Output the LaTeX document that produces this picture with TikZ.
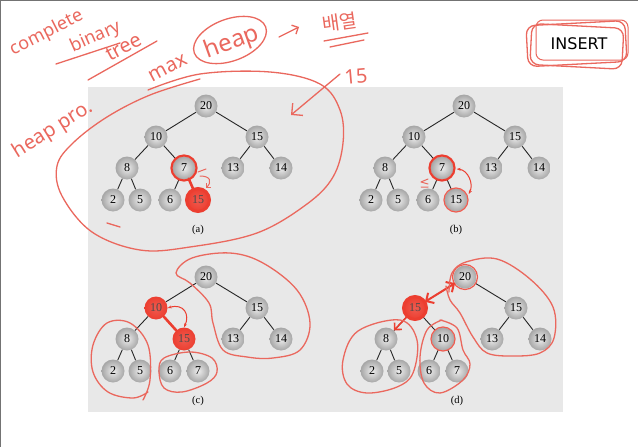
\documentclass[tikz,border=0pt]{standalone}
\usepackage{fontspec}
\setmainfont{Liberation Serif}
\newfontfamily\hand{Noto Sans}
\newfontfamily\kr{Noto Sans CJK KR}
\newfontfamily\uisans{DejaVu Sans}
\usetikzlibrary{arrows.meta,calc}
\definecolor{pen}{RGB}{234,104,94}
\definecolor{panel}{RGB}{232,232,232}
\definecolor{hotred}{RGB}{236,62,48}
\tikzset{
  x=1pt,y=-1pt,
  hn/.style={circle, minimum size=23pt, inner sep=0pt, shading=radial,
    inner color=gray!14, outer color=gray!70, font=\fontsize{12}{12}\selectfont},
  hotnode/.style={shading=radial, inner color=hotred!85, outer color=hotred, text=black!70},
  Nt/.style={}, Nl/.style={}, Nr/.style={}, Nll/.style={}, Nlr/.style={}, Nlrr/.style={},
  ed/.style={draw=black!85, line width=0.9pt},
  ink/.style={draw=pen, line width=1.3pt, line cap=round, line join=round},
  ring/.style={draw=hotred, line width=2.2pt},
  thinring/.style={draw=hotred!85, line width=1.2pt},
  hotline/.style={draw=hotred, line width=2.6pt, line cap=round},
  capt/.style={font=\fontsize{10.5}{10.5}\selectfont},
  hw/.style={text=pen, font=\hand\fontsize{#1}{#1}\selectfont, inner sep=0pt},
  hw/.default=20
}
\newcommand\heaptree[8]{%
\begin{scope}[shift={(#2,#3)}, name prefix=#1-, #8]
\node[hn,Nt] (t) at (0,0) {20};
\node[hn,Nl] (l) at (-50,31) {#4};
\node[hn,Nr] (r) at (51,31) {15};
\node[hn,Nll] (ll) at (-79,62) {#5};
\node[hn,Nlr] (lr) at (-22,62) {#6};
\node[hn] (rl) at (27,62) {13};
\node[hn] (rr) at (75,62) {14};
\node[hn] (lll) at (-93,94) {2};
\node[hn] (llr) at (-66,94) {5};
\node[hn] (lrl) at (-36,94) {6};
\node[hn,Nlrr] (lrr) at (-8,94) {#7};
\draw[ed] (t)--(l) (t)--(r) (l)--(ll) (l)--(lr) (r)--(rl) (r)--(rr)
  (ll)--(lll) (ll)--(llr) (lr)--(lrl) (lr)--(lrr);
\node[capt] (cap) at (-8,124) {(#1)};
\end{scope}}
\begin{document}
\begin{tikzpicture}
\useasboundingbox (0,0) rectangle (638,447);
\fill[white] (0,0) rectangle (638,447);
\draw[black!55, line width=2pt] (0,447) -- (0,0) -- (638,0);
\fill[panel] (88,87) rectangle (563,412);

% trees
\heaptree{a}{206}{106}{10}{8}{7}{15}{Nlrr/.style={hotnode}}
\heaptree{b}{464}{106}{10}{8}{7}{15}{}
\heaptree{c}{206}{277}{10}{8}{15}{7}{Nl/.style={hotnode}, Nlr/.style={hotnode}}
\heaptree{d}{465}{277}{15}{8}{10}{7}{Nl/.style={hotnode}}

% (a) marks
\draw[hotline] (a-lr) -- (a-lrr);
\draw[ring] (a-lr) circle (12.5pt);
\draw[ring, line width=3pt] (a-lrr) circle (11.5pt);
\draw[ink, line width=1pt] (198,172) -- (206,169);
\draw[ink, line width=1pt, -{Straight Barb[length=3pt]}] (200,176) .. controls (211,176) and (212,182) .. (206,188);

% (b) marks
\draw[ring] (b-lr) circle (12.5pt);
\draw[thinring] (b-lrr) circle (12pt);
\draw[hotred, line width=1pt, {Stealth[length=4pt]}-{Stealth[length=4pt]}]
  ($(b-lr.east)+(3,1)$) .. controls (468,170) and (474,184) .. ($(b-lrr.east)+(1,-6)$);
\draw[ink, line width=1pt] (428,179) -- (421,182) -- (428,184) (421,187) -- (428,187);

% (c) marks
\draw[hotline] (c-l) -- (c-lr);
\draw[hotred, line width=1pt, {Stealth[length=4pt]}-{Stealth[length=4pt]}]
  (c-l.east) .. controls (184,303) and (190,315) .. (c-lr.north);
\draw[ink] plot[smooth cycle, tension=0.6] coordinates {(176,273) (192,258) (230,253) (263,263) (297,290) (310,323) (300,350) (273,358) (247,357) (223,350) (213,323) (209,303) (190,283)};
\draw[ink] plot[smooth, tension=0.6] coordinates {(143,400) (150,380) (148,345) (130,323) (107,323) (93,345) (93,372) (108,392) (133,398) (148,392)};
\draw[ink] plot[smooth cycle, tension=0.6] coordinates {(164,358) (190,352) (212,358) (217,372) (207,383) (182,392) (164,388) (159,371)};

% (d) marks
\draw[thinring] (d-t) circle (12.5pt);
\draw[thinring] (d-lr) circle (12pt);
\draw[ring, line width=3pt] (d-l) circle (11.5pt);
\draw[hotline, line width=2pt, {Straight Barb[length=6pt]}-{Straight Barb[length=6pt]}] (d-t) -- (d-l);
\draw[hotline, line width=1.6pt, -{Straight Barb[length=5pt]}] (d-l) -- (d-ll);
\draw[ink] plot[smooth, tension=0.6] coordinates {(449,292) (452,273) (466,262) (497,259) (530,279) (553,307) (554,338) (540,353) (513,356) (487,353) (473,337) (460,313) (450,300) (446,286)};
\draw[ink] plot[smooth cycle, tension=0.6] coordinates {(358,331) (400,320) (417,340) (413,373) (397,387) (367,393) (347,384) (343,360)};
\draw[ink] plot[smooth, tension=0.6] coordinates {(440,320) (457,328) (463,350) (470,364) (463,380) (440,393) (424,383) (420,357) (427,330) (442,320)};

% big loop around (a)
\draw[ink] plot[smooth, tension=0.6] coordinates {(148,90) (200,74) (270,72) (320,84) (340,110) (343,143) (333,177) (307,204) (257,233) (190,247) (140,250) (92,232) (62,196) (57,166) (73,143) (107,117) (150,95) (200,79)};
\draw[ink] (107,223) -- (120,227);

% handwriting
\node[hw=18, rotate=27] (w1) at (47,33) {complete};
\node[hw=18, rotate=24] (w2) at (96,37) {binary};
\node[hw=20, rotate=28] (w3) at (124,47) {tree};
\draw[ink] (56,64) -- (120,43);
\draw[ink] (88,80) -- (157,41);
\node[hw=20, rotate=28] (w4) at (168,68) {max};
\node[hw=24, rotate=20] (w5) at (232,43) {heap};
\draw[ink] (230,40) ellipse [x radius=38, y radius=21, rotate=20];
\draw[ink, -{Straight Barb[length=5pt]}] (279,37) -- (299,27);
\node[hw=19, rotate=8, font=\kr\fontsize{19}{19}\selectfont] (w6) at (340,22) {배열};
\draw[ink] (324,41) -- (368,33) (330,47) -- (364,40);
\node[hw=20, rotate=32] (w7) at (53,130) {heap pro.};
\node[hw=20, rotate=5] (w8) at (356,76) {15};
\coordinate (ar1) at (340,74);
\coordinate (ar2) at (291,115);
\draw[ink, -{Straight Barb[length=8pt]}] (ar1) -- (ar2);

% INSERT
\node[font=\uisans\fontsize{16}{16}\selectfont] (ins) at (579,44) {INSERT};
\draw[ink, rounded corners=9pt, rotate around={3:(ins)}] (527,23) rectangle (626,64);
\draw[ink, rounded corners=9pt, rotate around={-3:(ins)}] (531,26) rectangle (623,67);
\draw[ink, line width=1pt, rounded corners=7pt] (536,20) rectangle (628,60);
\end{tikzpicture}
\end{document}
